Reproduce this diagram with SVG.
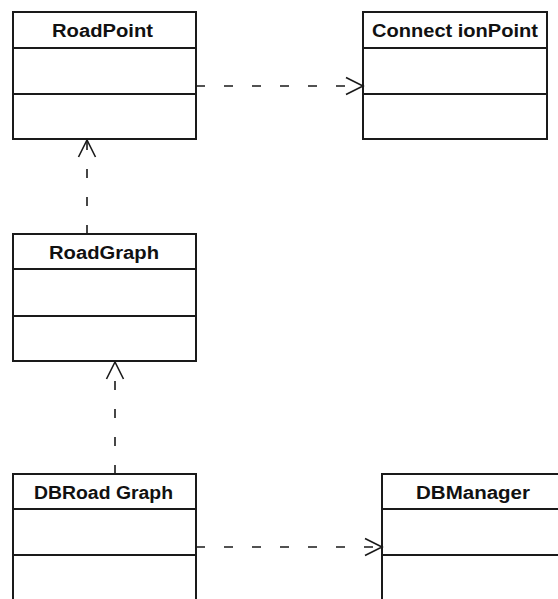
<svg xmlns="http://www.w3.org/2000/svg" width="558" height="599" viewBox="0 0 558 599">
  <style>
    .box { fill: #ffffff; stroke: #1a1a1a; stroke-width: 2; }
    .sep { stroke: #1a1a1a; stroke-width: 2; }
    .name { font-family: "Liberation Sans", Arial, sans-serif; font-weight: bold; font-size: 18px; fill: #111111; text-anchor: start; }
    .dep { fill: none; stroke: #1a1a1a; stroke-width: 1.6; stroke-dasharray: 9 19; }
  </style>
  <defs>
    <marker id="open" viewBox="0 0 20 20" refX="18" refY="10" markerWidth="20" markerHeight="20" markerUnits="userSpaceOnUse" orient="auto">
      <polyline points="1,1.5 18,10 1,18.5" fill="none" stroke="#1a1a1a" stroke-width="1.6"/>
    </marker>
  </defs>

  <rect width="558" height="599" fill="#ffffff"/>

  <g id="RoadPoint">
    <rect class="box" x="13" y="12" width="183" height="127"/>
    <line class="sep" x1="13" y1="48" x2="196" y2="48"/>
    <line class="sep" x1="13" y1="94" x2="196" y2="94"/>
    <text class="name" x="52" y="37" textLength="101" lengthAdjust="spacingAndGlyphs">RoadPoint</text>
  </g>

  <g id="ConnectionPoint">
    <rect class="box" x="363" y="12" width="184" height="127"/>
    <line class="sep" x1="363" y1="48" x2="547" y2="48"/>
    <line class="sep" x1="363" y1="94" x2="547" y2="94"/>
    <text class="name" x="372" y="37" textLength="166" lengthAdjust="spacingAndGlyphs">Connect ionPoint</text>
  </g>

  <g id="RoadGraph">
    <rect class="box" x="13" y="234" width="183" height="127"/>
    <line class="sep" x1="13" y1="269" x2="196" y2="269"/>
    <line class="sep" x1="13" y1="316" x2="196" y2="316"/>
    <text class="name" x="49" y="259" textLength="110" lengthAdjust="spacingAndGlyphs">RoadGraph</text>
  </g>

  <g id="DBRoadGraph">
    <rect class="box" x="13" y="474" width="183" height="140"/>
    <line class="sep" x1="13" y1="509" x2="196" y2="509"/>
    <line class="sep" x1="13" y1="555" x2="196" y2="555"/>
    <text class="name" x="34" y="499" textLength="139" lengthAdjust="spacingAndGlyphs">DBRoad Graph</text>
  </g>

  <g id="DBManager">
    <rect class="box" x="382" y="474" width="190" height="140"/>
    <line class="sep" x1="382" y1="509" x2="572" y2="509"/>
    <line class="sep" x1="382" y1="555" x2="572" y2="555"/>
    <text class="name" x="416" y="499" textLength="114" lengthAdjust="spacingAndGlyphs">DBManager</text>
  </g>

  <g id="connectors">
    <path class="dep" d="M196,86 H363" marker-end="url(#open)"/>
    <path class="dep" d="M87,234 V140" marker-end="url(#open)"/>
    <path class="dep" d="M115,474 V362" marker-end="url(#open)"/>
    <path class="dep" d="M196,547 H382" marker-end="url(#open)"/>
  </g>
</svg>
